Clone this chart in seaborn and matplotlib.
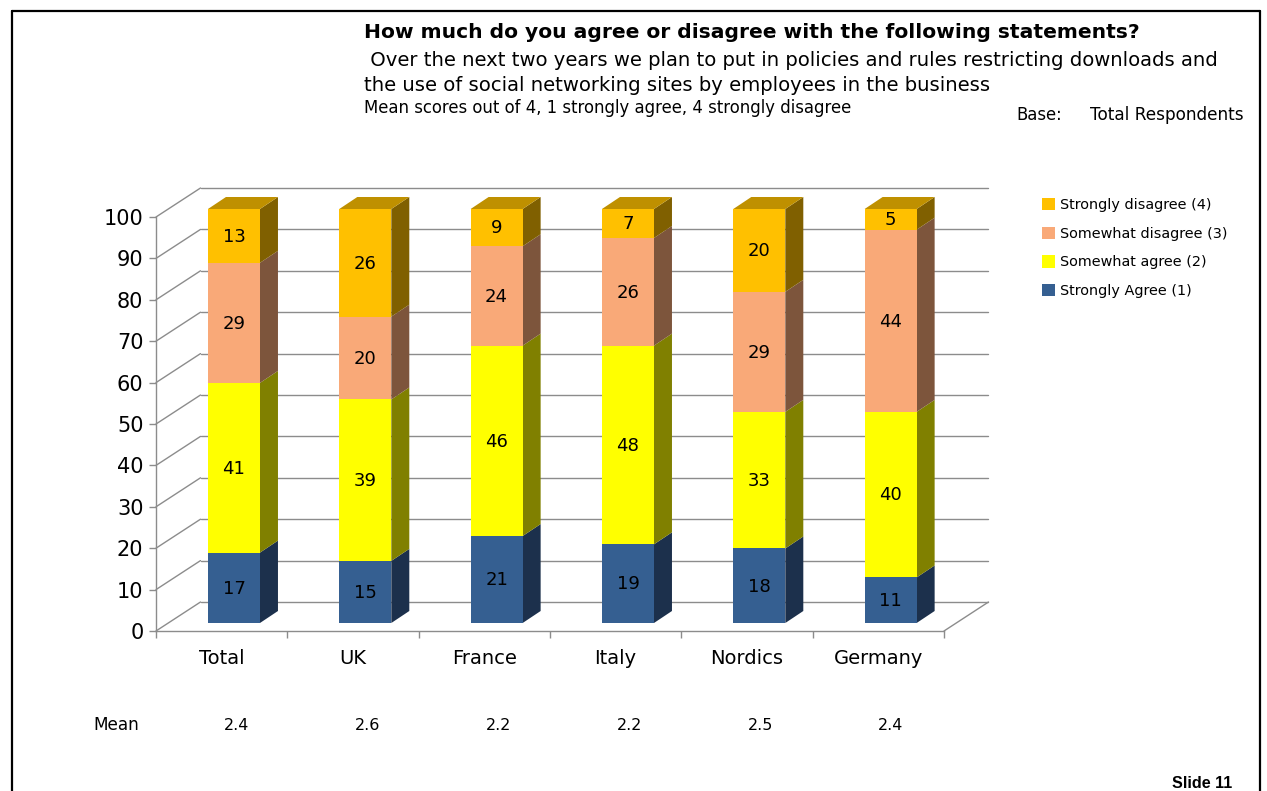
import matplotlib
matplotlib.use("Agg")
import matplotlib.pyplot as plt
from matplotlib.lines import Line2D
from matplotlib.patches import Patch, Polygon
from matplotlib.transforms import ScaledTranslation
import pandas as pd
import seaborn as sns

# Survey results by market
markets = ["Total", "UK", "France", "Italy", "Nordics", "Germany"]
strongly_agree = [17, 15, 21, 19, 18, 11]
somewhat_agree = [41, 39, 46, 48, 33, 40]
somewhat_disagree = [29, 20, 24, 26, 29, 44]
strongly_disagree = [13, 26, 9, 7, 20, 5]
mean_scores = ["2.4", "2.6", "2.2", "2.2", "2.5", "2.4"]

series_names = ["Strongly Agree (1)", "Somewhat agree (2)",
                "Somewhat disagree (3)", "Strongly disagree (4)"]
series_values = [strongly_agree, somewhat_agree, somewhat_disagree, strongly_disagree]
front_colors = ["#355F91", "#FFFF00", "#F9A978", "#FFC000"]
side_colors = ["#1C304C", "#808000", "#7D553C", "#806000"]
top_color = "#BF9000"
grid_color = "#8C8C8C"

W, H, DPI = 1267, 791, 100
sns.set_theme(style="white")
plt.rcParams["font.family"] = ["DejaVu Sans"]

fig = plt.figure(figsize=(W / DPI, H / DPI), dpi=DPI, facecolor="white")
# Front plane of the plot box, in pixels
L, R, T, B = 156, 944, 217, 631
ax = fig.add_axes([L / W, 1 - B / H, (R - L) / W, (B - T) / H])
ax.set_facecolor("none")

bar_width = 0.396
unit_x = (R - L) / 6
unit_y = (B - T) / 100

# Pixel offsets of the oblique projection
wall_dx, wall_dy = 44.5 / unit_x, 29 / unit_y
bar_dx, bar_dy = 18 / unit_x, 12 / unit_y
shift = ScaledTranslation(12.3 / DPI, 8 / DPI, fig.dpi_scale_trans)
shifted = ax.transData + shift
# Value labels sit a pixel above the centre of each segment
label_shift = ax.transData + ScaledTranslation(12.8 / DPI, 9.2 / DPI, fig.dpi_scale_trans)

# Walls and floor
for v in range(0, 101, 10):
    ax.plot([-0.5, -0.5 + wall_dx], [v, v + wall_dy], color=grid_color, lw=1,
            clip_on=False, zorder=1)
    ax.plot([-0.5 + wall_dx, 5.5 + wall_dx], [v + wall_dy, v + wall_dy], color=grid_color,
            lw=1, clip_on=False, zorder=1)
ax.plot([5.5, 5.5 + wall_dx], [0, wall_dy], color=grid_color, lw=1, clip_on=False, zorder=1)

# Stacked front faces, then the side and top faces of each column
bottoms = [0] * len(markets)
for name, values, front, side in zip(series_names, series_values, front_colors, side_colors):
    frame = pd.DataFrame({"market": markets, "value": values})
    n_before = len(ax.patches)
    sns.barplot(data=frame, x="market", y="value", order=markets, color=front, saturation=1,
                width=bar_width, bottom=bottoms, ax=ax, zorder=3, clip_on=False,
                edgecolor="none", linewidth=0)
    for patch in ax.patches[n_before:]:
        patch.set_transform(shifted)
    for i, (base, val) in enumerate(zip(bottoms, values)):
        right = i + bar_width / 2
        ax.add_patch(Polygon([(right, base), (right + bar_dx, base + bar_dy),
                              (right + bar_dx, base + val + bar_dy), (right, base + val)],
                             closed=True, facecolor=side, edgecolor="none",
                             transform=shifted, zorder=2.5, clip_on=False))
        ax.text(i - 0.004, base + val / 2, str(val), ha="center", va="center_baseline",
                fontsize=13, color="black", transform=label_shift, zorder=4)
    bottoms = [b + v for b, v in zip(bottoms, values)]

for i, total in enumerate(bottoms):
    left, right = i - bar_width / 2, i + bar_width / 2
    ax.add_patch(Polygon([(left, total), (right, total),
                          (right + bar_dx, total + bar_dy), (left + bar_dx, total + bar_dy)],
                         closed=True, facecolor=top_color, edgecolor="none",
                         transform=shifted, zorder=2.5, clip_on=False))

# Axes
ax.set_xlim(-0.5, 5.5)
ax.set_ylim(0, 100)
ax.set_xlabel("")
ax.set_ylabel("")
ax.set_yticks(range(0, 101, 10))
ax.set_xticks(range(len(markets)))
ax.set_xticklabels(markets)
ax.set_xticks([i - 0.5 for i in range(len(markets) + 1)], minor=True)
ax.tick_params(axis="y", length=5, width=1, color=grid_color, labelsize=15, pad=4,
               left=True, labelcolor="black")
ax.tick_params(axis="x", which="major", length=0, labelsize=14, pad=13, labelcolor="black")
ax.tick_params(axis="x", which="minor", length=5, width=1, color=grid_color, bottom=True)
for side in ("top", "right"):
    ax.spines[side].set_visible(False)
for side in ("left", "bottom"):
    ax.spines[side].set_color(grid_color)
    ax.spines[side].set_linewidth(1)

# Mean scores row
mean_y = 1 - 725 / H
fig.text(116 / W, mean_y, "Mean", ha="center", va="center", fontsize=12.2, color="black")
for i, m in enumerate(mean_scores):
    x_px = 237 + 130.8 * i
    fig.text(x_px / W, mean_y, m, ha="center", va="center", fontsize=11.5, color="black")

# Legend
handles = [Patch(facecolor=c, edgecolor="none") for c in front_colors[::-1]]
fig.legend(handles, series_names[::-1], loc="upper left",
           bbox_to_anchor=(1036 / W, 1 - 192 / H), frameon=False, fontsize=10.4,
           handlelength=0.92, handleheight=0.92, handletextpad=0.35, labelspacing=1.02,
           labelcolor="black", borderpad=0.4, borderaxespad=0)

# Heading block
fig.text(364 / W, 1 - 32 / H, "How much do you agree or disagree with the following statements?",
         fontsize=14.6, fontweight="bold", va="center", color="black")
fig.text(364 / W, 1 - 60.5 / H,
         " Over the next two years we plan to put in policies and rules restricting downloads and",
         fontsize=14.1, va="center", color="black")
fig.text(364 / W, 1 - 85.5 / H,
         "the use of social networking sites by employees in the business",
         fontsize=14.1, va="center", color="black")
fig.text(364 / W, 1 - 108 / H, "Mean scores out of 4, 1 strongly agree, 4 strongly disagree",
         fontsize=11.9, va="center", color="black")
fig.text(1016 / W, 1 - 115 / H, "Base:", fontsize=11.9, va="center", color="black")
fig.text(1090 / W, 1 - 115 / H, "Total Respondents", fontsize=12.2, va="center", color="black")
fig.text(1172 / W, 1 - 784 / H, "Slide 11", fontsize=11.6, fontweight="bold", va="center",
         family=["Liberation Sans"], color="black")

# Slide border
border = dict(color="black", lw=1.6, transform=fig.transFigure)
fig.add_artist(Line2D([12 / W, 1260 / W], [1 - 11 / H, 1 - 11 / H], **border))
fig.add_artist(Line2D([12 / W, 12 / W], [1 - 11 / H, 0], **border))
fig.add_artist(Line2D([1260 / W, 1260 / W], [1 - 11 / H, 0], **border))

fig.savefig("out.png", dpi=DPI, facecolor="white")
